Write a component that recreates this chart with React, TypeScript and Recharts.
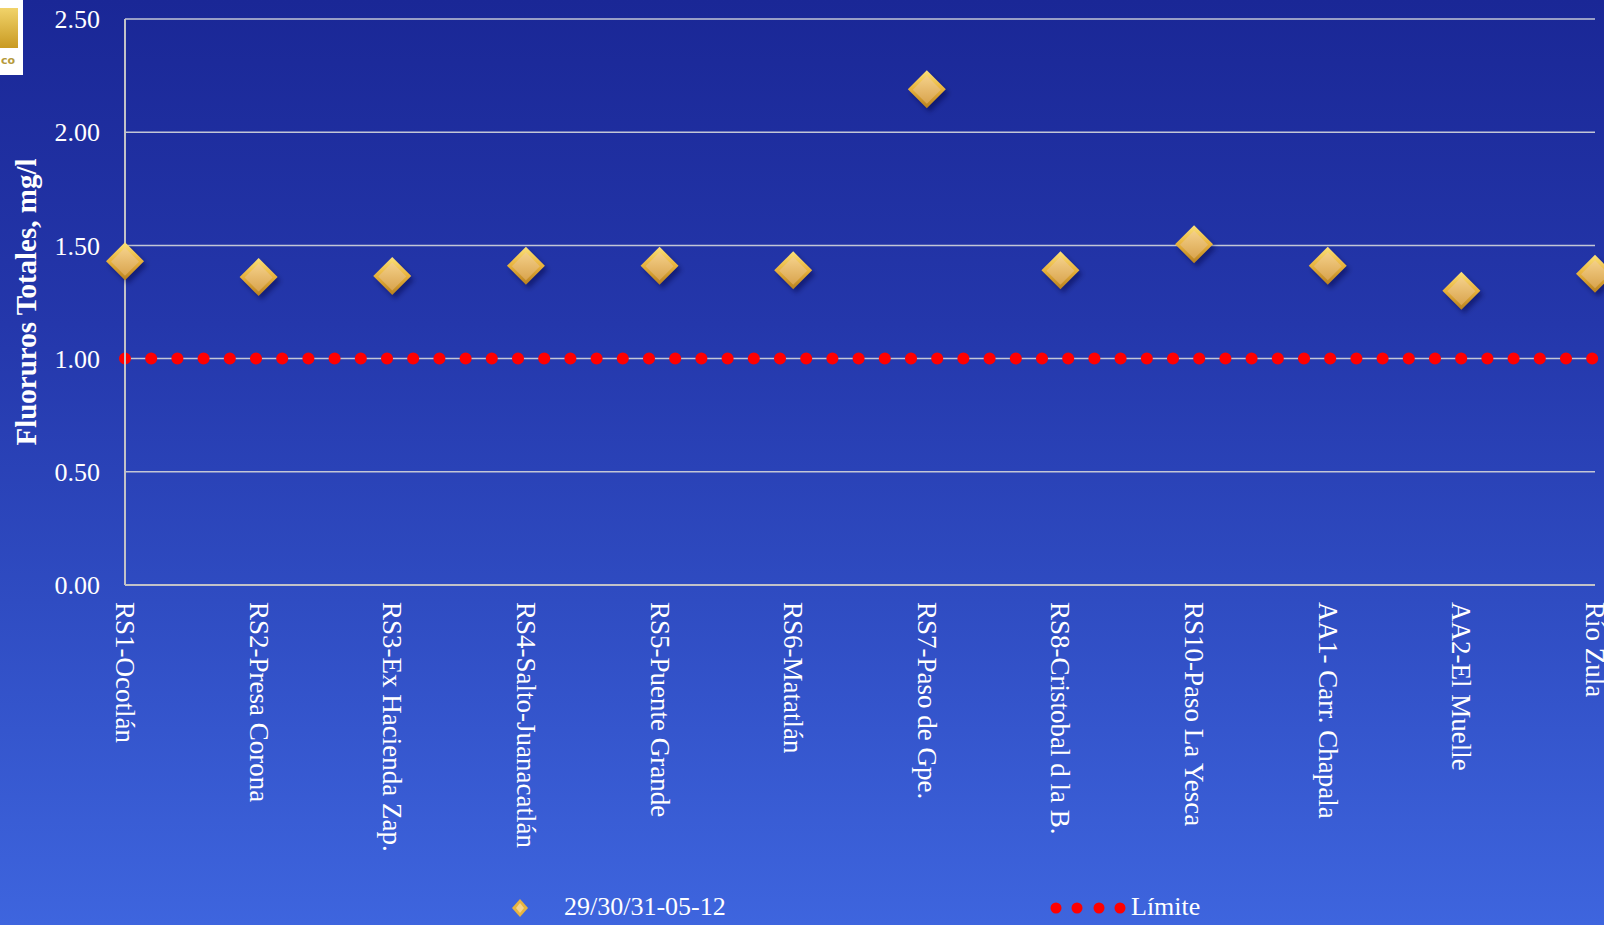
import React from "react";
import { LineChart, Line, XAxis, YAxis, CartesianGrid } from "recharts";

// sampling sites along the river
const sites = [
  "RS1-Ocotlán",
  "RS2-Presa Corona",
  "RS3-Ex Hacienda Zap.",
  "RS4-Salto-Juanacatlán",
  "RS5-Puente Grande",
  "RS6-Matatlán",
  "RS7-Paso de Gpe.",
  "RS8-Cristobal d la B.",
  "RS10-Paso La Yesca",
  "AA1- Carr. Chapala",
  "AA2-El Muelle",
  "Río Zula",
];

// fluoruros totales, mg/l (muestreo 29/30/31-05-12)
const fluoruros = [1.43, 1.36, 1.365, 1.41, 1.41, 1.39, 2.19, 1.39, 1.505, 1.41, 1.3, 1.375];

// limite permisible
const limite = [1, 1, 1, 1, 1, 1, 1, 1, 1, 1, 1, 1];

const yTicks = [0, 0.5, 1, 1.5, 2, 2.5];

const seriesName = "29/30/31-05-12";
const limiteName = "Límite";

const data = sites.map((name, i) => ({
  name,
  fluoruros: fluoruros[i],
  limite: limite[i],
}));

const FONT = "'Liberation Serif', 'DejaVu Serif', serif";

function diamondPoints(cx: number, cy: number, r: number) {
  return `${cx},${cy - r} ${cx + r},${cy} ${cx},${cy + r} ${cx - r},${cy}`;
}

const GoldDefs = () => (
  <defs>
    <linearGradient id="goldEdge" x1="0" y1="0" x2="0" y2="1">
      <stop offset="0%" stopColor="#fbe27a" />
      <stop offset="50%" stopColor="#e8b23c" />
      <stop offset="100%" stopColor="#b7801f" />
    </linearGradient>
    <linearGradient id="goldFace" x1="0" y1="0" x2="0" y2="1">
      <stop offset="0%" stopColor="#f4d089" />
      <stop offset="100%" stopColor="#d9a44e" />
    </linearGradient>
    <filter id="dshadow" x="-50%" y="-50%" width="200%" height="200%">
      <feGaussianBlur stdDeviation="2.5" />
    </filter>
  </defs>
);

function renderDiamond(props: any) {
  const { cx, cy, index } = props;
  if (cx == null || cy == null) return <g key={`d-${index}`} />;
  const r = 19;
  return (
    <g key={`d-${index}`}>
      {index === 0 && <GoldDefs />}
      <polygon
        points={diamondPoints(cx + 3, cy + 4, r)}
        fill="rgba(5,10,60,0.45)"
        filter="url(#dshadow)"
      />
      <polygon points={diamondPoints(cx, cy, r)} fill="url(#goldEdge)" />
      <polygon points={diamondPoints(cx, cy + 0.5, r - 5)} fill="url(#goldFace)" />
    </g>
  );
}

function XTick(props: any) {
  const { x, y, payload } = props;
  return (
    <text
      x={x}
      y={y}
      transform={`rotate(90, ${x}, ${y})`}
      textAnchor="start"
      dominantBaseline="central"
      fill="#ffffff"
      fontSize={27}
      fontFamily={FONT}
    >
      {payload.value}
    </text>
  );
}

export default function App() {
  return (
    <div
      style={{
        position: "absolute",
        left: 0,
        top: 0,
        width: 1604,
        height: 925,
        overflow: "hidden",
        background:
          "linear-gradient(to bottom, #1a2796 0%, #2437ab 35%, #2f4cc2 65%, #3e65de 100%)",
        fontFamily: FONT,
      }}
    >
      {/* logo fragment in the corner */}
      <div
        style={{
          position: "absolute",
          left: 0,
          top: 0,
          width: 23,
          height: 75,
          background: "#ffffff",
        }}
      >
        <div
          style={{
            position: "absolute",
            left: 0,
            top: 8,
            width: 18,
            height: 40,
            background: "linear-gradient(to bottom, #f1d36a, #c99a22)",
          }}
        />
        <div
          style={{
            position: "absolute",
            left: 1,
            top: 54,
            fontSize: 11,
            color: "#b59a3c",
            fontFamily: "'DejaVu Sans', sans-serif",
            fontWeight: "bold",
          }}
        >
          co
        </div>
      </div>

      <LineChart
        width={1604}
        height={925}
        data={data}
        margin={{ top: 19, right: 9, left: 0, bottom: 40 }}
      >
        <CartesianGrid vertical={false} stroke="#c3c6d6" strokeWidth={1.5} />
        <XAxis
          dataKey="name"
          interval={0}
          height={300}
          tick={<XTick />}
          tickLine={false}
          tickMargin={11}
          axisLine={{ stroke: "#c2c2c8", strokeWidth: 2 }}
        />
        <YAxis
          domain={[0, 2.5]}
          ticks={yTicks}
          width={125}
          tickLine={false}
          tickSize={0}
          tickMargin={25}
          tickFormatter={(v: number) => v.toFixed(2)}
          tick={{ fill: "#ffffff", fontSize: 26, fontFamily: FONT }}
          axisLine={{ stroke: "#c2c2c8", strokeWidth: 2 }}
          label={{
            value: "Fluoruros Totales, mg/l",
            angle: -90,
            position: "insideLeft",
            offset: 26,
            style: {
              fill: "#ffffff",
              fontSize: 29,
              fontWeight: "bold",
              fontFamily: FONT,
              textAnchor: "middle",
            },
          }}
        />
        <Line
          type="linear"
          dataKey="limite"
          name={limiteName}
          stroke="#ff0000"
          strokeWidth={12}
          strokeLinecap="round"
          strokeDasharray="0 26.2"
          dot={false}
          activeDot={false}
          isAnimationActive={false}
        />
        <Line
          type="linear"
          dataKey="fluoruros"
          name={seriesName}
          stroke="none"
          dot={renderDiamond}
          activeDot={false}
          isAnimationActive={false}
        />
      </LineChart>

      {/* legend */}
      <div
        style={{
          position: "absolute",
          top: 890,
          left: 0,
          width: 1604,
          height: 36,
          color: "#ffffff",
          fontSize: 26,
        }}
      >
        <svg
          width={20}
          height={20}
          style={{ position: "absolute", left: 510, top: 8 }}
        >
          <polygon points="10,1 18,10 10,19 2,10" fill="#e7b43f" />
          <polygon points="10,5 14,10 10,15 6,10" fill="#f4d38c" />
        </svg>
        <span style={{ position: "absolute", left: 564, top: 2, whiteSpace: "nowrap" }}>
          {seriesName}
        </span>
        <svg
          width={80}
          height={20}
          style={{ position: "absolute", left: 1049, top: 8 }}
        >
          {[7, 28, 50, 71].map((cx) => (
            <circle key={cx} cx={cx} cy={10} r={5.5} fill="#ff0000" />
          ))}
        </svg>
        <span style={{ position: "absolute", left: 1131, top: 2, whiteSpace: "nowrap" }}>
          {limiteName}
        </span>
      </div>
    </div>
  );
}
